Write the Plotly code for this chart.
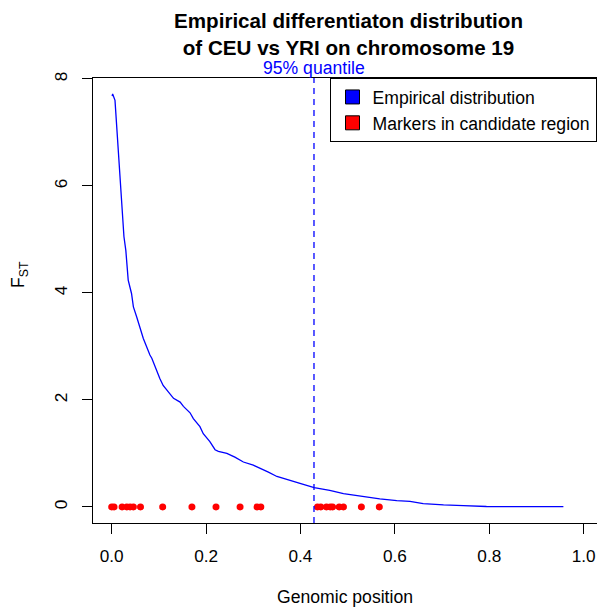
import plotly.graph_objects as go

# ---- data ----
curve_x = [0.001, 0.002, 0.007, 0.014, 0.020, 0.026, 0.030, 0.035, 0.042, 0.046, 0.053,
           0.060, 0.067, 0.081, 0.085, 0.102, 0.109, 0.120, 0.131, 0.145, 0.152, 0.166,
           0.173, 0.187, 0.194, 0.208, 0.219, 0.226, 0.244, 0.261, 0.279, 0.300, 0.321,
           0.332, 0.350, 0.357, 0.378, 0.385, 0.406, 0.429, 0.456, 0.462, 0.491, 0.505,
           0.526, 0.568, 0.604, 0.632, 0.660, 0.703, 0.745, 0.794, 0.851, 0.907, 0.957]
curve_y = [7.68, 7.72, 7.60, 6.73, 5.92, 5.05, 4.79, 4.24, 3.99, 3.74, 3.55,
           3.33, 3.15, 2.84, 2.78, 2.40, 2.27, 2.15, 2.03, 1.96, 1.88, 1.76,
           1.65, 1.50, 1.37, 1.22, 1.07, 1.04, 1.00, 0.93, 0.84, 0.78, 0.70,
           0.65, 0.57, 0.55, 0.49, 0.47, 0.42, 0.36, 0.325, 0.31, 0.25, 0.23,
           0.20, 0.15, 0.12, 0.105, 0.064, 0.037, 0.026, 0.008, 0.006, 0.005, 0.005]

marker_x = [0.000, 0.005, 0.022, 0.032, 0.039, 0.046, 0.061, 0.108, 0.170, 0.221,
            0.272, 0.308, 0.316, 0.436, 0.443, 0.455, 0.463, 0.468, 0.482, 0.491,
            0.529, 0.567]
marker_y = [0.0] * len(marker_x)

quantile_95 = 0.4286

x_tickvals = [0.0, 0.2, 0.4, 0.6, 0.8, 1.0]
x_ticktext = ["0.0", "0.2", "0.4", "0.6", "0.8", "1.0"]
y_tickvals = [0, 2, 4, 6, 8]
y_ticktext = ["0", "2", "4", "6", "8"]

legend_labels = ["Empirical distribution", "Markers in candidate region"]
legend_colors = ["#0000FF", "#FF0000"]

FONT = "Liberation Sans, Arial, Helvetica, sans-serif"
FS = 17.6
FS_TICK = 17.2

W, H = 597, 607
ML, MR, MT, MB = 93, 0, 78, 84
PW, PH = W - ML - MR, H - MT - MB

fig = go.Figure()
fig.add_trace(go.Scatter(x=curve_x, y=curve_y, mode="lines",
                         line=dict(color="#0000FF", width=1.3), showlegend=False,
                         hoverinfo="skip"))
fig.add_trace(go.Scatter(x=marker_x, y=marker_y, mode="markers",
                         marker=dict(color="#FF0000", size=7), showlegend=False,
                         hoverinfo="skip"))
for lab, col in zip(legend_labels, legend_colors):
    fig.add_trace(go.Scatter(x=[None], y=[None], mode="markers", name=lab,
                             marker=dict(symbol="square", size=14, color=col,
                                         line=dict(color="black", width=1))))

fig.add_shape(type="line", xref="x", yref="y domain", x0=quantile_95, x1=quantile_95,
              y0=0, y1=1, line=dict(color="#0000FF", width=1.3, dash="6px,5px"))
fig.add_annotation(x=quantile_95, xref="x", y=1, yref="paper", yanchor="bottom",
                   yshift=-2, text="95% quantile", showarrow=False,
                   font=dict(family=FONT, size=FS, color="#0000FF"))
fig.add_annotation(xref="paper", yref="paper", x=(19 - ML) / PW, y=(MT + PH - 275) / PH,
                   text="F<sub>ST</sub>", textangle=-90, showarrow=False,
                   xanchor="center", yanchor="middle",
                   font=dict(family=FONT, size=FS, color="black"))

axis_common = dict(showline=True, linecolor="black", linewidth=1,
                   ticks="outside", ticklen=10, tickcolor="black", tickwidth=1,
                   showgrid=False, zeroline=False,
                   tickfont=dict(family=FONT, size=FS_TICK, color="black"))

fig.update_layout(
    width=W, height=H,
    margin=dict(l=ML, r=MR, t=MT, b=MB, autoexpand=False),
    paper_bgcolor="white", plot_bgcolor="white",
    title=dict(text="<b>Empirical differentiaton distribution<br>of CEU vs YRI on chromosome 19</b>",
               x=0.507, xref="paper", xanchor="center",
               y=1 - 28 / H, yref="container", yanchor="top",
               font=dict(family=FONT, size=20.6, color="black")),
    xaxis=dict(range=[-0.0396, 1.0282], tickvals=x_tickvals, ticktext=x_ticktext,
               ticklabelstandoff=7, mirror=True,
               title=dict(text="Genomic position", standoff=36,
                          font=dict(family=FONT, size=FS, color="black")),
               **axis_common),
    yaxis=dict(range=[-0.30, 8.018], tickvals=y_tickvals, ticktext=y_ticktext,
               tickangle=-90, ticklabelstandoff=8, mirror=False, **axis_common),
    legend=dict(x=(329.5 - ML) / PW, y=1, xanchor="left", yanchor="top",
                xref="paper", yref="paper",
                bordercolor="black", borderwidth=1, bgcolor="white",
                entrywidth=245, entrywidthmode="pixels",
                font=dict(family=FONT, size=FS, color="black"), indentation=2),
    showlegend=True,
)

fig.write_html("out.html", config={"displayModeBar": False},
               post_script="document.body.style.margin='0px';")
